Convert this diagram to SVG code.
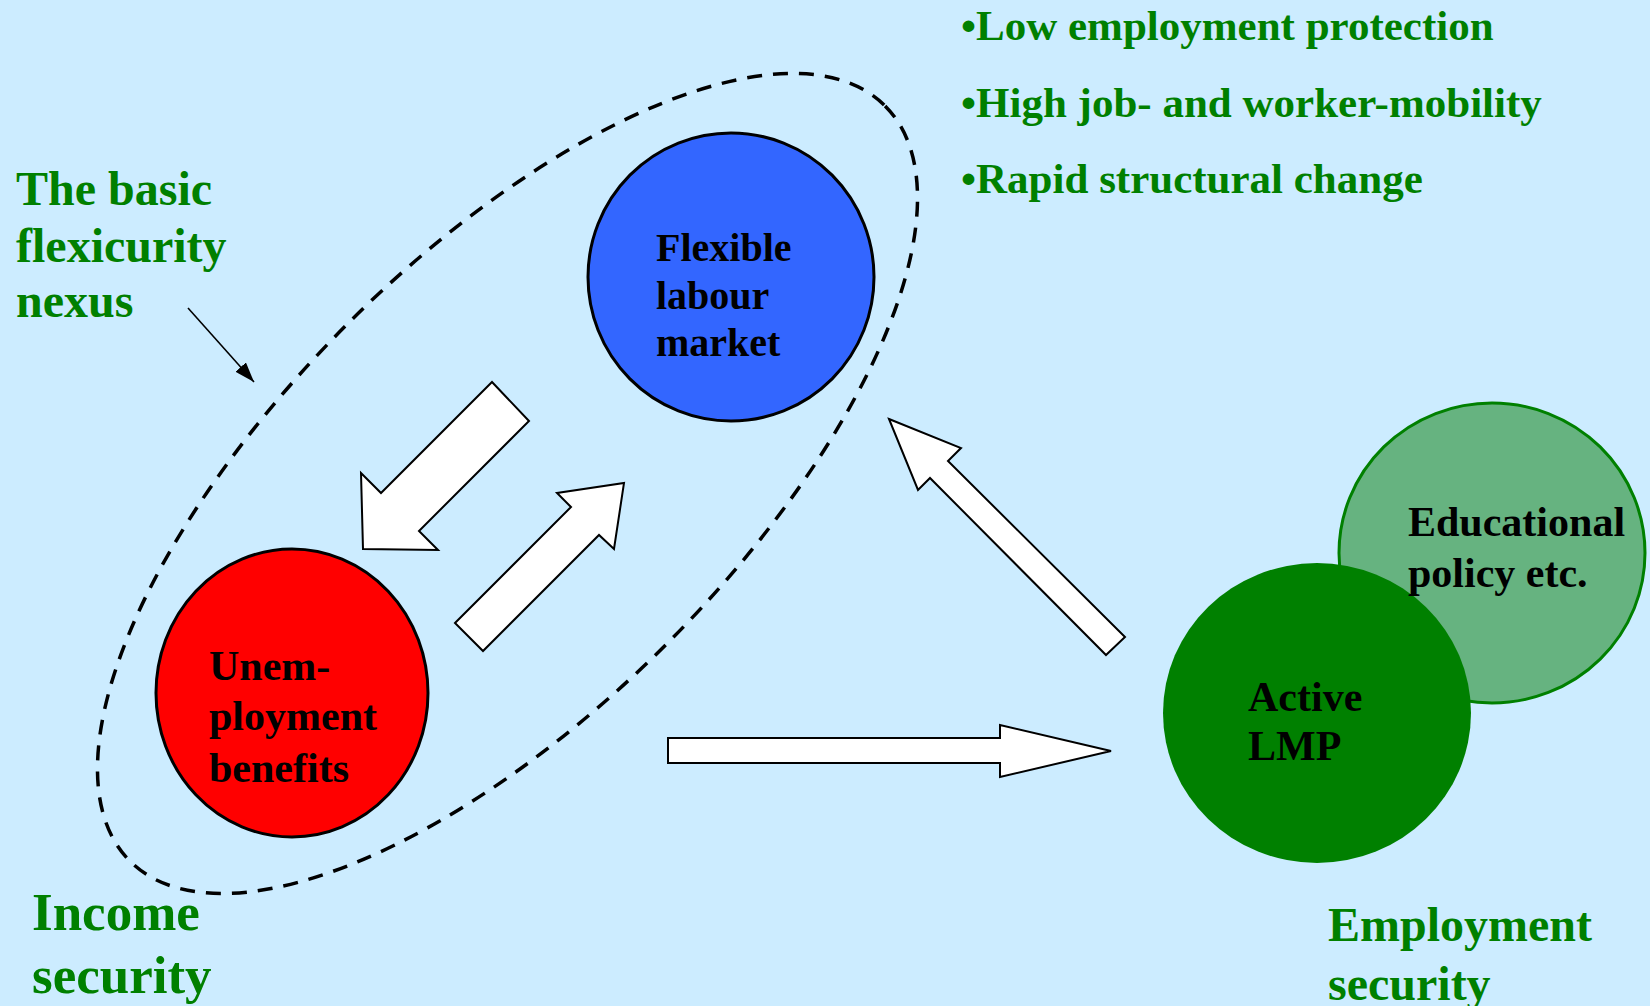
<svg xmlns="http://www.w3.org/2000/svg" width="1650" height="1006" viewBox="0 0 1650 1006">
  <defs>
    <style>
      .bg { fill: #CCECFF; }
      .lbl { font-family: "Liberation Serif", "Times New Roman", serif; font-weight: bold; }
      .node-txt { fill: #000; font-size: 42px; }
      .green-txt { fill: #008000; }
      .ring { stroke: #000; stroke-width: 3; }
      .block { fill: #fff; stroke: #000; stroke-width: 2; stroke-linejoin: miter; }
    </style>
    <marker id="thinHead" markerUnits="userSpaceOnUse" markerWidth="22" markerHeight="16" refX="20" refY="7" orient="auto">
      <path d="M0,0 L20,7 L0,14 Z" fill="#000"/>
    </marker>
  </defs>

  <rect class="bg" x="0" y="0" width="1650" height="1006"/>

  <!-- dashed outline around the basic nexus -->
  <ellipse id="nexus-outline" cx="507.5" cy="483.5" rx="534" ry="226" transform="rotate(-45 507.5 483.5)" fill="none" stroke="#000" stroke-width="3.5" stroke-dasharray="15 11"/>

  <!-- green captions -->
  <g id="caption-nexus" class="lbl green-txt" font-size="48">
    <text x="16" y="205">The basic</text>
    <text x="16" y="262">flexicurity</text>
    <text x="16" y="317">nexus</text>
  </g>
  <g id="caption-bullets" class="lbl green-txt" font-size="43">
    <text x="961" y="40">•Low employment protection</text>
    <text x="961" y="117">•High job- and worker-mobility</text>
    <text x="961" y="193">•Rapid structural change</text>
  </g>
  <g id="caption-income" class="lbl green-txt" font-size="53">
    <text x="32" y="930">Income</text>
    <text x="32" y="993">security</text>
  </g>
  <g id="caption-employment" class="lbl green-txt" font-size="48">
    <text x="1328" y="941">Employment</text>
    <text x="1328" y="1000">security</text>
  </g>

  <!-- nodes -->
  <g id="node-flexible">
    <ellipse class="ring" cx="731" cy="277" rx="143" ry="144" fill="#3366FF"/>
    <text class="lbl" fill="#000" font-size="40">
      <tspan x="656" y="261">Flexible</tspan>
      <tspan x="656" y="309">labour</tspan>
      <tspan x="656" y="356">market</tspan>
    </text>
  </g>

  <g id="node-benefits">
    <ellipse class="ring" cx="292" cy="693" rx="136" ry="144" fill="#FF0000"/>
    <text class="lbl node-txt">
      <tspan x="209" y="680">Unem-</tspan>
      <tspan x="209" y="730">ployment</tspan>
      <tspan x="209" y="782">benefits</tspan>
    </text>
  </g>

  <g id="node-education">
    <ellipse cx="1492" cy="553" rx="153" ry="150" fill="#66B380" stroke="#008000" stroke-width="3"/>
  </g>

  <g id="node-active-lmp">
    <ellipse cx="1317" cy="713" rx="154" ry="150" fill="#008000"/>
    <text class="lbl node-txt">
      <tspan x="1248" y="711">Active</tspan>
      <tspan x="1248" y="760">LMP</tspan>
    </text>
  </g>

  <g id="node-education-label">
    <text class="lbl node-txt">
      <tspan x="1408" y="536">Educational</tspan>
      <tspan x="1408" y="587">policy etc.</tspan>
    </text>
  </g>

  <!-- connectors -->
  <g id="connectors">
    <polygon class="block" points="492,382 529,421 419,531 438,550 363,549 361,473 381,493"/>
    <polygon class="block" points="455,623 571,507 557,493 624,483 614,549 599,535 483,651"/>
    <polygon class="block" points="889,419 961,448 948,461 1125,637 1106,655 930,478 918,490"/>
    <polygon class="block" points="668,738 1000,738 1000,725 1111,751 1000,777 1000,763 668,763"/>
    <line x1="188" y1="308" x2="254" y2="382" stroke="#000" stroke-width="1.6" marker-end="url(#thinHead)"/>
  </g>
</svg>
